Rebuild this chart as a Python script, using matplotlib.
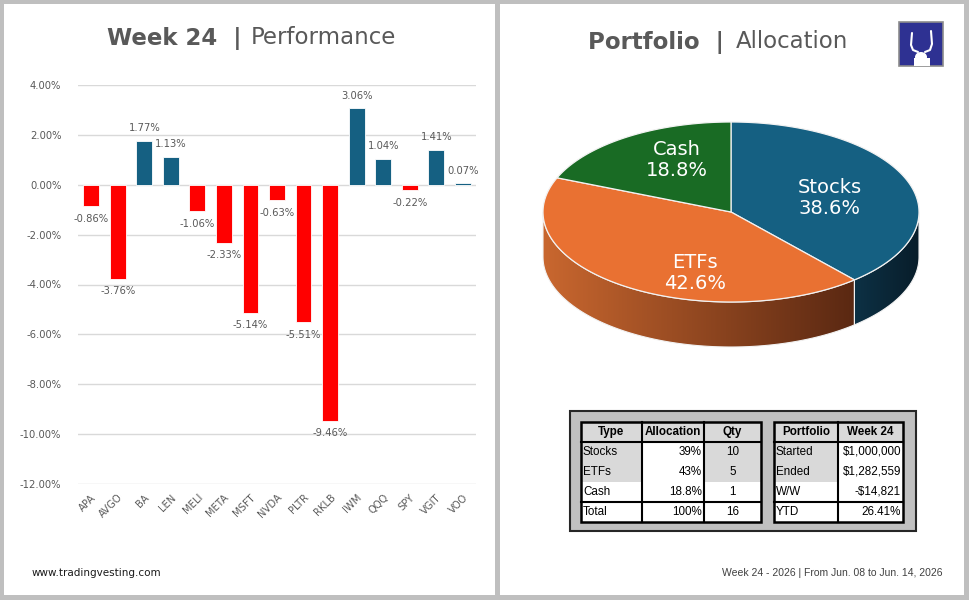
import numpy as np
import matplotlib
matplotlib.use("Agg")
import matplotlib.pyplot as plt
from matplotlib.patches import Rectangle, Polygon, Ellipse
from matplotlib.colors import LinearSegmentedColormap
from matplotlib.ticker import FuncFormatter

# ---- data ----
tickers = ["APA", "AVGO", "BA", "LEN", "MELI", "META", "MSFT", "NVDA",
           "PLTR", "RKLB", "IWM", "QQQ", "SPY", "VGIT", "VOO"]
weekly_pct = [-0.86, -3.76, 1.77, 1.13, -1.06, -2.33, -5.14, -0.63,
              -5.51, -9.46, 3.06, 1.04, -0.22, 1.41, 0.07]

pie_labels = ["Stocks", "ETFs", "Cash"]
pie_values = [38.6, 42.6, 18.8]

alloc_header = ["Type", "Allocation", "Qty"]
alloc_types = ["Stocks", "ETFs", "Cash", "Total"]
alloc_pct = ["39%", "43%", "18.8%", "100%"]
alloc_qty = ["10", "5", "1", "16"]

port_header = ["Portfolio", "Week 24"]
port_rows = ["Started", "Ended", "W/W", "YTD"]
port_vals = ["$1,000,000", "$1,282,559", "-$14,821", "26.41%"]

# ---- colours ----
BLUE = "#156082"
RED = "#FF0000"
ORANGE = "#E97132"
GREEN = "#196B24"
GREY_TXT = "#595959"

fig = plt.figure(figsize=(9.7, 6.0), dpi=100)
fig.patch.set_facecolor("#BFBFBF")

# background axes in pixel coordinates
bg = fig.add_axes([0, 0, 1, 1])
bg.set_xlim(0, 970)
bg.set_ylim(600, 0)
bg.axis("off")
bg.add_patch(Rectangle((4, 4), 491, 591, fc="white", ec="none"))
bg.add_patch(Rectangle((500, 4), 464, 591, fc="white", ec="none"))

# titles
bg.text(242, 38, "Week 24  |", ha="right", va="center", fontsize=16.5,
        fontweight="bold", color=GREY_TXT)
bg.text(251, 38, "Performance", ha="left", va="center", fontsize=16.5, color=GREY_TXT)
bg.text(724, 42, "Portfolio  |", ha="right", va="center", fontsize=16.5,
        fontweight="bold", color=GREY_TXT)
bg.text(736, 42, "Allocation", ha="left", va="center", fontsize=16.5, color=GREY_TXT)

# logo
bg.add_patch(Rectangle((899, 22), 44, 44, fc="#2E3192", ec="#8C8C8C", lw=1.2))
bg.plot([912, 911, 913, 918], [33, 45, 50, 52], color="white", lw=1.5,
        solid_capstyle="round")
bg.plot([931, 932, 930, 925], [31, 44, 50, 52], color="white", lw=1.5,
        solid_capstyle="round")
bg.add_patch(Ellipse((921, 57), 12, 10, fc="white", ec="none"))
bg.add_patch(Rectangle((914, 58), 16, 8, fc="white", ec="none"))

# footers
bg.text(32, 573, "www.tradingvesting.com", ha="left", va="center", fontsize=7.5,
        color="#1A1A1A")
bg.text(943, 573, "Week 24 - 2026 | From Jun. 08 to Jun. 14, 2026", ha="right",
        va="center", fontsize=7.5, color="#404040", family="Liberation Sans")

# ---- bar chart ----
ax = fig.add_axes([78 / 970, 1 - 484 / 600, 398 / 970, 399 / 600])
ax.set_facecolor("none")
x = np.arange(len(tickers))
colors = [BLUE if v >= 0 else RED for v in weekly_pct]
ax.bar(x, weekly_pct, width=0.6, color=colors, edgecolor="white", linewidth=0.6, zorder=3)
ax.set_xlim(-0.5, len(tickers) - 0.5)
ax.set_ylim(-12, 4)
ax.set_yticks(np.arange(-12, 4.1, 2))
ax.yaxis.set_major_formatter(FuncFormatter(lambda v, p: f"{v:.2f}%"))
ax.grid(axis="y", color="#D9D9D9", lw=1, zorder=0)
for s in ax.spines.values():
    s.set_visible(False)
ax.tick_params(length=0, labelsize=7.2, labelcolor=GREY_TXT)
ax.tick_params(axis="y", pad=12)
ax.set_xticks(x)
ax.set_xticklabels(tickers, rotation=45, ha="right", rotation_mode="anchor")
ax.tick_params(axis="x", pad=6)
for xi, v in zip(x, weekly_pct):
    off = 9 if v >= 0 else -9
    ax.annotate(f"{v:.2f}%", (xi, v), xytext=(0, off), textcoords="offset points",
                ha="center", va="center", fontsize=7.2, color=GREY_TXT)

# ---- 3D pie ----
cx, cy, a, b, depth = 731, 212, 188, 90, 45
pie_colors = [BLUE, ORANGE, GREEN]
side_maps = [("#0D3145", "#081D2A"), ("#C9672F", "#5A2812"), ("#12501B", "#0A3010")]


def ell(theta):
    return cx + a * np.sin(theta), cy - b * np.cos(theta)


fracs = np.array(pie_values) / sum(pie_values)
bounds = np.concatenate([[0], np.cumsum(fracs)]) * 2 * np.pi

# side walls (front half: theta between pi/2 and 3pi/2)
for i in range(len(pie_values)):
    t0, t1 = max(bounds[i], np.pi / 2), min(bounds[i + 1], 3 * np.pi / 2)
    if t1 <= t0:
        continue
    th = np.linspace(t0, t1, 120)
    xs, ys = ell(th)
    pts = np.column_stack([np.concatenate([xs, xs[::-1]]),
                           np.concatenate([ys, ys[::-1] + depth])])
    poly = Polygon(pts, closed=True, fc="none", ec="#F2F2F2", lw=0.8, zorder=4)
    bg.add_patch(poly)
    cmap = LinearSegmentedColormap.from_list("s", side_maps[i])
    grad = np.linspace(0, 1, 256).reshape(1, -1)
    im = bg.imshow(grad, cmap=cmap, aspect="auto", zorder=3,
                   extent=(xs.min(), xs.max(), ys.max() + depth, ys.min()))
    im.set_clip_path(poly)

bg.set_xlim(0, 970)
bg.set_ylim(600, 0)

# top faces
for i in range(len(pie_values)):
    th = np.linspace(bounds[i], bounds[i + 1], 200)
    xs, ys = ell(th)
    pts = np.column_stack([np.concatenate([[cx], xs]), np.concatenate([[cy], ys])])
    bg.add_patch(Polygon(pts, closed=True, fc=pie_colors[i], ec="#F2F2F2", lw=0.9, zorder=5))

label_pos = [(830, 198), (695, 273), (677, 160)]
for (lx, ly), lab, v in zip(label_pos, pie_labels, pie_values):
    bg.text(lx, ly, f"{lab}\n{v:.1f}%", ha="center", va="center", fontsize=14,
            color="white", linespacing=1.1, zorder=6)

# ---- tables ----
bg.add_patch(Rectangle((570, 411), 346, 120, fc="#C0C0C0", ec="#262626", lw=1.5, zorder=2))
row_y = [422, 442, 462, 482, 502, 522]
TF = dict(fontsize=8.4, family="Liberation Sans", color="black", zorder=4)


def draw_table(col_x, header, cols, aligns, grey_cols):
    x0, x1 = col_x[0], col_x[-1]
    bg.add_patch(Rectangle((x0, row_y[0]), x1 - x0, row_y[-1] - row_y[0],
                           fc="white", ec="none", zorder=2.5))
    bg.add_patch(Rectangle((x0, row_y[0]), x1 - x0, row_y[1] - row_y[0],
                           fc="#D9D9D9", ec="none", zorder=2.6))
    for c in grey_cols:
        bg.add_patch(Rectangle((col_x[c], row_y[1]), col_x[c + 1] - col_x[c],
                               row_y[3] - row_y[1], fc="#D9D9D9", ec="none", zorder=2.6))
    for c, h in enumerate(header):
        bg.text((col_x[c] + col_x[c + 1]) / 2, (row_y[0] + row_y[1]) / 2, h,
                ha="center", va="center", fontweight="bold", **TF)
    for c, col in enumerate(cols):
        for r, val in enumerate(col):
            yc = (row_y[r + 1] + row_y[r + 2]) / 2
            if aligns[c] == "left":
                xt = col_x[c] + 2
            elif aligns[c] == "right":
                xt = col_x[c + 1] - 2
            else:
                xt = (col_x[c] + col_x[c + 1]) / 2
            bg.text(xt, yc, val, ha=aligns[c], va="center", **TF)
    # borders
    bg.add_patch(Rectangle((x0, row_y[0]), x1 - x0, row_y[-1] - row_y[0],
                           fc="none", ec="black", lw=1.8, zorder=3))
    for xc in col_x[1:-1]:
        bg.plot([xc, xc], [row_y[0], row_y[-1]], color="black", lw=1.5, zorder=3)
    bg.plot([x0, x1], [row_y[1], row_y[1]], color="black", lw=1.5, zorder=3)
    bg.plot([x0, x1], [row_y[4], row_y[4]], color="black", lw=1.5, zorder=3)


draw_table([581, 642, 704, 761], alloc_header, [alloc_types, alloc_pct, alloc_qty],
           ["left", "right", "center"], [0, 2])
draw_table([774, 838, 903], port_header, [port_rows, port_vals],
           ["left", "right"], [0])

fig.savefig("out.png", dpi=100)
